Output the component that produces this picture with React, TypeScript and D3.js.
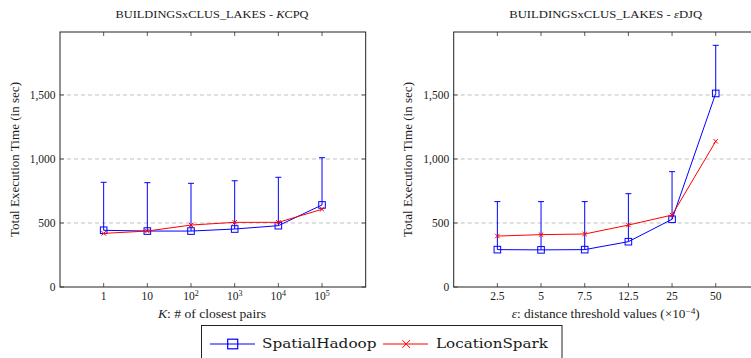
import React from "react";
import * as d3 from "d3";

const kLabels = ["1", "10", "10^2", "10^3", "10^4", "10^5"];
const kHadoop = [443, 437, 437, 453, 479, 641];
const kHadoopErr = [818, 815, 810, 830, 857, 1010];
const kSpark = [419, 437, 484, 505, 505, 607];

const eLabels = ["2.5", "5", "7.5", "12.5", "25", "50"];
const eHadoop = [292, 290, 292, 354, 529, 1512];
const eHadoopErr = [667, 667, 667, 729, 901, 1888];
const eSpark = [398, 409, 414, 484, 562, 1138];

const yTicks = [0, 500, 1000, 1500];

const FONT = '"Liberation Serif", "DejaVu Serif", serif';
const LEGEND_FONT = '"DejaVu Serif", serif';
const BLUE = "#0000ff";
const RED = "#ff0000";
const TXT = "#1a1a1a";

const W = 751, H = 358;
const TOP = 32, BOTTOM = 287;
const FS = 11.5;

function TickLabel({ s }: { s: string }) {
  const m = s.match(/^(\d+)\^(-?\d+)$/);
  if (!m) return <>{s}</>;
  return (
    <>
      {m[1]}
      <tspan dy={-4.5} fontSize={8}>{m[2]}</tspan>
    </>
  );
}

function Panel(props: {
  x0: number;
  title: React.ReactNode;
  xlabel: React.ReactNode;
  xlabelWidth: number;
  labels: string[];
  hadoop: number[];
  hadoopErr: number[];
  spark: number[];
}) {
  const { x0, title, xlabel, xlabelWidth, labels, hadoop, hadoopErr, spark } = props;
  const step = 43.67;
  const x = d3.scaleLinear().domain([-1, labels.length]).range([x0, x0 + step * (labels.length + 1)]);
  const y = d3.scaleLinear().domain([0, 1992]).range([BOTTOM, TOP]);
  const xL = x(-1), xR = x(labels.length);
  const idx = labels.map((_, i) => i);
  const line = d3.line<number>().x((_, i) => x(i)).y((v) => y(v));
  const cx = x0 + 152;
  return (
    <g>
      <text x={cx} y={18} textAnchor="middle" fontSize={11} fill={TXT} textLength={193} lengthAdjust="spacingAndGlyphs">{title}</text>
      {yTicks.filter((t) => t > 0).map((t) => (
        <line key={"g" + t} x1={xL} x2={xR} y1={y(t)} y2={y(t)} stroke="#b0b0b0" strokeWidth={0.8} strokeDasharray="4,3" />
      ))}
      {yTicks.map((t) => (
        <g key={"yt" + t}>
          <line x1={xL} x2={xL + 4} y1={y(t)} y2={y(t)} stroke="#333" strokeWidth={0.8} />
          <line x1={xR} x2={xR - 4} y1={y(t)} y2={y(t)} stroke="#333" strokeWidth={0.8} />
          <text x={xL - 4.5} y={y(t) + 3.8} textAnchor="end" fontSize={FS} fill={TXT}>{d3.format(",")(t)}</text>
        </g>
      ))}
      {idx.map((i) => (
        <g key={"xt" + i}>
          <line x1={x(i)} x2={x(i)} y1={BOTTOM} y2={BOTTOM - 4} stroke="#333" strokeWidth={0.8} />
          <line x1={x(i)} x2={x(i)} y1={TOP} y2={TOP + 4} stroke="#333" strokeWidth={0.8} />
          <text x={x(i)} y={BOTTOM + 13} textAnchor="middle" fontSize={FS} fill={TXT}><TickLabel s={labels[i]} /></text>
        </g>
      ))}
      <rect x={xL} y={TOP} width={xR - xL} height={BOTTOM - TOP} fill="none" stroke="#222" strokeWidth={1} />
      <text x={cx} y={318} textAnchor="middle" fontSize={FS} fill={TXT} textLength={xlabelWidth} lengthAdjust="spacingAndGlyphs">{xlabel}</text>
      <text transform={`translate(${x0 - 41.5},${(TOP + BOTTOM) / 2}) rotate(-90)`} textAnchor="middle" fontSize={FS} fill={TXT} textLength={155} lengthAdjust="spacingAndGlyphs">Total Execution Time (in sec)</text>
      {idx.map((i) => (
        <g key={"e" + i}>
          <line x1={x(i)} x2={x(i)} y1={y(hadoop[i])} y2={y(hadoopErr[i])} stroke={BLUE} strokeWidth={1} />
          <line x1={x(i) - 3} x2={x(i) + 3} y1={y(hadoopErr[i])} y2={y(hadoopErr[i])} stroke={BLUE} strokeWidth={1} />
        </g>
      ))}
      <path d={line(hadoop) || ""} fill="none" stroke={BLUE} strokeWidth={1} />
      {idx.map((i) => (
        <rect key={"h" + i} x={x(i) - 3.3} y={y(hadoop[i]) - 3.3} width={6.6} height={6.6} fill="none" stroke={BLUE} strokeWidth={1} />
      ))}
      <path d={line(spark) || ""} fill="none" stroke={RED} strokeWidth={1} />
      {idx.map((i) => (
        <path key={"s" + i} d={`M${x(i) - 2.2},${y(spark[i]) - 2.2}L${x(i) + 2.2},${y(spark[i]) + 2.2}M${x(i) - 2.2},${y(spark[i]) + 2.2}L${x(i) + 2.2},${y(spark[i]) - 2.2}`} stroke={RED} strokeWidth={1} />
      ))}
    </g>
  );
}

export default function App() {
  return (
    <svg width={W} height={H} style={{ position: "absolute", left: 0, top: 0, background: "#fff", fontFamily: FONT }}>
      <rect width={W} height={H} fill="#fff" />
      <Panel
        x0={60}
        title={<>BUILDINGSxCLUS_LAKES - <tspan fontStyle="italic">K</tspan>CPQ</>}
        xlabel={<><tspan fontStyle="italic">K</tspan>: # of closest pairs</>}
        xlabelWidth={108}
        labels={kLabels}
        hadoop={kHadoop}
        hadoopErr={kHadoopErr}
        spark={kSpark}
      />
      <Panel
        x0={453.7}
        title={<>BUILDINGSxCLUS_LAKES - <tspan fontStyle="italic">ε</tspan>DJQ</>}
        xlabel={<><tspan fontStyle="italic">ε</tspan>: distance threshold values (×10<tspan dy={-4.5} fontSize={8}>−4</tspan><tspan dy={4.5}>)</tspan></>}
        xlabelWidth={188}
        labels={eLabels}
        hadoop={eHadoop}
        hadoopErr={eHadoopErr}
        spark={eSpark}
      />
      <g style={{ fontFamily: LEGEND_FONT }}>
        <rect x={201.5} y={325.5} width={360.5} height={40} fill="#fff" stroke="#222" strokeWidth={1} />
        <line x1={210} x2={255} y1={344} y2={344} stroke={BLUE} strokeWidth={1} />
        <rect x={227.7} y={339.2} width={10} height={9.6} fill="none" stroke={BLUE} strokeWidth={1.2} />
        <text x={262} y={347.8} fontSize={12.5} fill={TXT} textLength={114.5} lengthAdjust="spacingAndGlyphs">SpatialHadoop</text>
        <line x1={383} x2={428} y1={344} y2={344} stroke={RED} strokeWidth={1} />
        <path d="M402.3,340.2L410,347.8M402.3,347.8L410,340.2" stroke={RED} strokeWidth={1} />
        <text x={436} y={347.8} fontSize={12.5} fill={TXT} textLength={112} lengthAdjust="spacingAndGlyphs">LocationSpark</text>
      </g>
    </svg>
  );
}
